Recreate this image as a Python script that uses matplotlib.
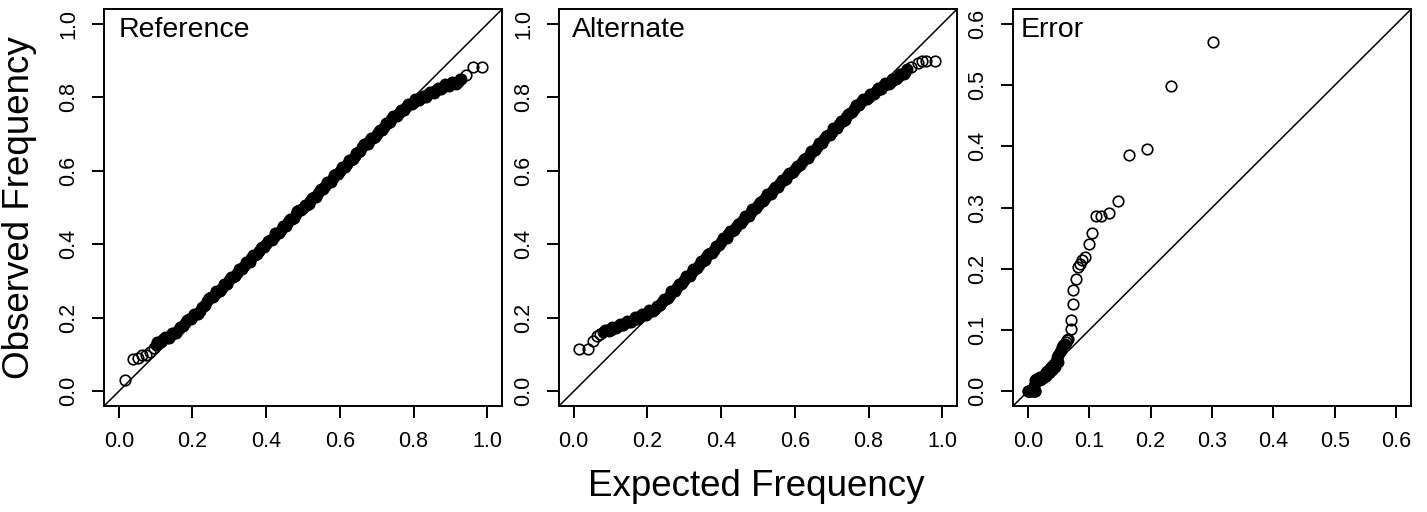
import numpy as np
import matplotlib
matplotlib.use("Agg")
import matplotlib.pyplot as plt

plt.rcParams['font.family'] = ['Liberation Sans', 'DejaVu Sans']

# ---- Reference panel ----
# sparse points at both ends
ref_tail_x = [0.018, 0.038, 0.053, 0.063, 0.075, 0.085, 0.095, 0.942, 0.960, 0.985]
ref_tail_y = [0.030, 0.088, 0.090, 0.100, 0.100, 0.108, 0.118, 0.861, 0.884, 0.884]
# dense band, read along its centre
ref_band_x = [0.10, 0.11, 0.12, 0.13, 0.14, 0.15, 0.16, 0.17, 0.18, 0.19,
              0.20, 0.21, 0.22, 0.23, 0.24, 0.25, 0.26, 0.27, 0.28, 0.29,
              0.30, 0.31, 0.32, 0.33, 0.34, 0.35, 0.36, 0.37, 0.38, 0.39,
              0.40, 0.41, 0.42, 0.43, 0.44, 0.45, 0.46, 0.47, 0.48, 0.49,
              0.50, 0.51, 0.52, 0.53, 0.54, 0.55, 0.56, 0.57, 0.58, 0.59,
              0.60, 0.61, 0.62, 0.63, 0.64, 0.65, 0.66, 0.67, 0.68, 0.69,
              0.70, 0.71, 0.72, 0.73, 0.74, 0.75, 0.76, 0.77, 0.78, 0.79,
              0.80, 0.81, 0.82, 0.83, 0.84, 0.85, 0.86, 0.87, 0.88, 0.89,
              0.90, 0.91, 0.92, 0.93]
ref_band_y = [0.125, 0.135, 0.142, 0.146, 0.150, 0.158, 0.167, 0.176, 0.186, 0.196,
              0.203, 0.210, 0.218, 0.232, 0.246, 0.256, 0.264, 0.273, 0.282, 0.292,
              0.303, 0.312, 0.322, 0.334, 0.342, 0.352, 0.362, 0.372, 0.382, 0.392,
              0.402, 0.411, 0.421, 0.430, 0.440, 0.450, 0.460, 0.470, 0.482, 0.494,
              0.500, 0.508, 0.518, 0.528, 0.539, 0.550, 0.560, 0.570, 0.580, 0.592,
              0.601, 0.610, 0.620, 0.630, 0.640, 0.652, 0.664, 0.672, 0.680, 0.690,
              0.700, 0.710, 0.720, 0.731, 0.742, 0.750, 0.758, 0.766, 0.774, 0.781,
              0.788, 0.794, 0.799, 0.803, 0.808, 0.814, 0.819, 0.824, 0.829, 0.834,
              0.836, 0.838, 0.843, 0.850]
# dense band, read on its upper / lower edges
ref_edge_x = [0.105, 0.115, 0.125, 0.135, 0.145, 0.155, 0.165, 0.175, 0.185, 0.195,
              0.205, 0.215, 0.225, 0.235, 0.245, 0.255, 0.265, 0.275, 0.285, 0.295,
              0.305, 0.315, 0.325, 0.335, 0.345, 0.355, 0.365, 0.375, 0.385, 0.395,
              0.405, 0.415, 0.425, 0.435, 0.445, 0.455, 0.465, 0.475, 0.485, 0.495,
              0.505, 0.515, 0.525, 0.535, 0.545, 0.555, 0.565, 0.575, 0.585, 0.595,
              0.605, 0.615, 0.625, 0.635, 0.645, 0.655, 0.665, 0.675, 0.685, 0.695,
              0.705, 0.715, 0.725, 0.735, 0.745, 0.755, 0.765, 0.775, 0.785, 0.795,
              0.805, 0.815, 0.825, 0.835, 0.845, 0.855, 0.865, 0.875, 0.885, 0.895,
              0.905, 0.915, 0.925]
ref_edge_y = [0.134, 0.135, 0.148, 0.144, 0.158, 0.158, 0.176, 0.177, 0.195, 0.196,
              0.210, 0.210, 0.229, 0.235, 0.255, 0.256, 0.272, 0.273, 0.291, 0.293,
              0.311, 0.313, 0.332, 0.334, 0.351, 0.353, 0.371, 0.373, 0.391, 0.393,
              0.410, 0.412, 0.430, 0.431, 0.449, 0.451, 0.469, 0.472, 0.492, 0.493,
              0.508, 0.509, 0.527, 0.530, 0.548, 0.551, 0.569, 0.571, 0.590, 0.592,
              0.610, 0.611, 0.629, 0.631, 0.650, 0.654, 0.672, 0.672, 0.689, 0.691,
              0.709, 0.711, 0.730, 0.733, 0.750, 0.750, 0.766, 0.766, 0.782, 0.781,
              0.795, 0.793, 0.805, 0.802, 0.815, 0.813, 0.826, 0.823, 0.836, 0.831,
              0.841, 0.837, 0.851]

# ---- Alternate panel ----
alt_tail_x = [0.015, 0.039, 0.053, 0.062, 0.071, 0.914, 0.934, 0.945, 0.956, 0.981]
alt_tail_y = [0.114, 0.114, 0.137, 0.150, 0.157, 0.884, 0.893, 0.899, 0.899, 0.899]
alt_band_x = [0.08, 0.09, 0.10, 0.11, 0.12,
              0.13, 0.14, 0.15, 0.16, 0.17, 0.18, 0.19, 0.20, 0.21, 0.22,
              0.23, 0.24, 0.25, 0.26, 0.27, 0.28, 0.29, 0.30, 0.31, 0.32,
              0.33, 0.34, 0.35, 0.36, 0.37, 0.38, 0.39, 0.40, 0.41, 0.42,
              0.43, 0.44, 0.45, 0.46, 0.47, 0.48, 0.49, 0.50, 0.51, 0.52,
              0.53, 0.54, 0.55, 0.56, 0.57, 0.58, 0.59, 0.60, 0.61, 0.62,
              0.63, 0.64, 0.65, 0.66, 0.67, 0.68, 0.69, 0.70, 0.71, 0.72,
              0.73, 0.74, 0.75, 0.76, 0.77, 0.78, 0.79, 0.80, 0.81, 0.82,
              0.83, 0.84, 0.85, 0.86, 0.87, 0.88, 0.89, 0.90]
alt_band_y = [0.162, 0.166, 0.168, 0.172, 0.177,
              0.181, 0.186, 0.190, 0.195, 0.200, 0.204, 0.208, 0.213, 0.218, 0.225,
              0.233, 0.242, 0.252, 0.262, 0.273, 0.283, 0.293, 0.304, 0.314, 0.324,
              0.334, 0.345, 0.355, 0.366, 0.376, 0.386, 0.396, 0.407, 0.417, 0.427,
              0.437, 0.447, 0.457, 0.467, 0.477, 0.487, 0.497, 0.507, 0.517, 0.527,
              0.537, 0.547, 0.556, 0.566, 0.576, 0.585, 0.595, 0.604, 0.614, 0.624,
              0.634, 0.645, 0.655, 0.665, 0.676, 0.686, 0.697, 0.707, 0.717, 0.727,
              0.737, 0.747, 0.757, 0.768, 0.779, 0.788, 0.796, 0.802, 0.809, 0.817,
              0.824, 0.831, 0.837, 0.843, 0.850, 0.856, 0.863, 0.870]
alt_edge_x = [0.085, 0.095, 0.105, 0.115, 0.125, 0.135, 0.145, 0.155, 0.165, 0.175,
              0.185, 0.195, 0.205, 0.215, 0.225, 0.235, 0.245, 0.255, 0.265, 0.275,
              0.285, 0.295, 0.305, 0.315, 0.325, 0.335, 0.345, 0.355, 0.365, 0.375,
              0.385, 0.395, 0.405, 0.415, 0.425, 0.435, 0.445, 0.455, 0.465, 0.475,
              0.485, 0.495, 0.505, 0.515, 0.525, 0.535, 0.545, 0.555, 0.565, 0.575,
              0.585, 0.595, 0.605, 0.615, 0.625, 0.635, 0.645, 0.655, 0.665, 0.675,
              0.685, 0.695, 0.705, 0.715, 0.725, 0.735, 0.745, 0.755, 0.765, 0.775,
              0.785, 0.795, 0.805, 0.815, 0.825, 0.835, 0.845, 0.855, 0.865, 0.875,
              0.885, 0.895, 0.905]
alt_edge_y = [0.168, 0.163, 0.174, 0.171, 0.183, 0.180, 0.192, 0.189, 0.202, 0.198,
              0.210, 0.207, 0.220, 0.218, 0.233, 0.234, 0.251, 0.253, 0.272, 0.274,
              0.292, 0.295, 0.313, 0.315, 0.333, 0.336, 0.354, 0.357, 0.375, 0.377,
              0.395, 0.398, 0.416, 0.418, 0.436, 0.438, 0.456, 0.458, 0.476, 0.478,
              0.496, 0.498, 0.516, 0.518, 0.536, 0.538, 0.556, 0.557, 0.575, 0.577,
              0.594, 0.596, 0.613, 0.615, 0.633, 0.636, 0.654, 0.656, 0.675, 0.677,
              0.696, 0.698, 0.716, 0.718, 0.736, 0.738, 0.756, 0.759, 0.778, 0.780,
              0.796, 0.795, 0.810, 0.809, 0.825, 0.824, 0.838, 0.836, 0.851, 0.849,
              0.864, 0.863, 0.876]

# ---- Error panel ----
err_band_x = [0.000, 0.002, 0.004, 0.006, 0.008, 0.010, 0.012, 0.010, 0.011, 0.012,
              0.014, 0.016, 0.018, 0.020, 0.022, 0.024, 0.026, 0.028, 0.030, 0.032,
              0.034, 0.036, 0.038, 0.040, 0.042, 0.044, 0.046, 0.047, 0.048, 0.050,
              0.052, 0.054, 0.056, 0.058, 0.060,
              0.020, 0.025, 0.030, 0.035, 0.040, 0.045, 0.050]
err_band_y = [0.000, 0.000, 0.000, 0.000, 0.000, 0.000, 0.001, 0.008, 0.014, 0.018,
              0.020, 0.021, 0.022, 0.023, 0.024, 0.025, 0.027, 0.029, 0.031, 0.033,
              0.035, 0.038, 0.040, 0.042, 0.044, 0.046, 0.048, 0.052, 0.056, 0.060,
              0.064, 0.068, 0.072, 0.076, 0.078,
              0.018, 0.021, 0.025, 0.030, 0.034, 0.040, 0.048]
err_tail_x = [0.000, 0.011, 0.062, 0.064, 0.066,
              0.070, 0.071, 0.073, 0.074, 0.078, 0.081, 0.085, 0.088, 0.093, 0.099,
              0.104, 0.111, 0.120, 0.132, 0.147, 0.165, 0.194, 0.234, 0.301]
err_tail_y = [0.000, 0.000, 0.080, 0.083, 0.086,
              0.101, 0.117, 0.143, 0.166, 0.183, 0.203, 0.208, 0.215, 0.219, 0.241,
              0.258, 0.286, 0.286, 0.291, 0.311, 0.386, 0.396, 0.499, 0.571]

panels = [
    ("Reference", ref_band_x + ref_edge_x, ref_band_y + ref_edge_y,
     ref_tail_x, ref_tail_y, 1.0, np.arange(0, 1.01, 0.2), 0.0),
    ("Alternate", alt_band_x + alt_edge_x, alt_band_y + alt_edge_y,
     alt_tail_x, alt_tail_y, 1.0, np.arange(0, 1.01, 0.2), -0.005),
    ("Error", err_band_x, err_band_y, err_tail_x, err_tail_y,
     0.6, np.arange(0, 0.61, 0.1), -0.012),
]
lefts = [0.0729, 0.3917, 0.7099]

fig = plt.figure(figsize=(14.27, 5.12), dpi=100)

for (name, bx, by, tx_, ty_, top, ticks, tx), left in zip(panels, lefts):
    ax = fig.add_axes([left, 0.207, 0.2789, 0.775])
    pad = top * 0.04
    ax.set_xlim(-pad, top + pad)
    ax.set_ylim(-pad, top + pad)
    ax.axline((0, 0), slope=1, color='black', lw=1.1)
    # dense band: overlapping circles merge into a solid stroke
    ax.plot(bx, by, 'o', mfc='none', mec='black', ms=6.0, mew=2.6)
    ax.plot(tx_, ty_, 'o', mfc='none', mec='black', ms=7.6, mew=1.2)
    ax.set_xticks(ticks)
    ax.set_yticks(ticks)
    ax.set_xticklabels(["%.1f" % t for t in ticks])
    ax.set_yticklabels(["%.1f" % t for t in ticks], rotation=90, va='center')
    ax.tick_params(direction='out', length=8.6, width=1.4, labelsize=15.5,
                   colors='black')
    ax.tick_params(axis='x', pad=9.5)
    ax.tick_params(axis='y', pad=9)
    for s in ax.spines.values():
        s.set_linewidth(1.4)
    ax.text(tx, 0.9295, name, transform=ax.get_xaxis_transform(),
            fontsize=20.5, ha='left', va='baseline')

fig.text(20 / 1427, 0.595, "Observed Frequency", rotation=90,
         fontsize=26.5, ha='center', va='center')
fig.text(0.530, 0.049, "Expected Frequency", fontsize=26.5,
         ha='center', va='center')

fig.savefig("out.png", dpi=100)
